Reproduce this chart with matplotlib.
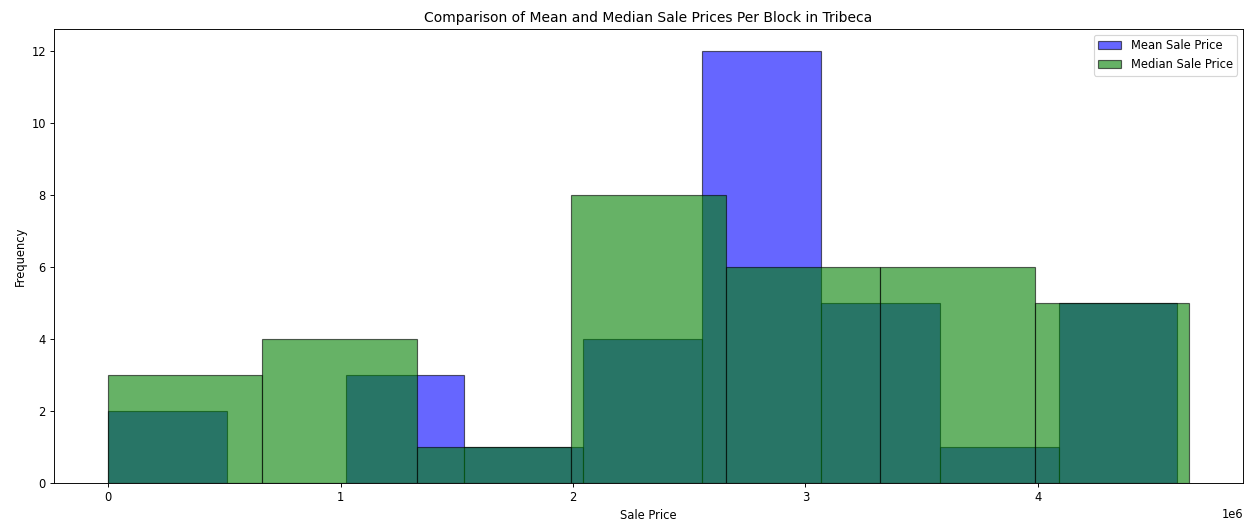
import numpy as np
import matplotlib
matplotlib.use('Agg')
from matplotlib import pyplot as plt

# histogram counts (33 blocks each)
mean_counts = [2, 0, 3, 1, 4, 12, 5, 1, 5]
mean_range = (0.0, 4.60e6)
median_counts = [3, 4, 1, 8, 6, 6, 5]
median_range = (0.0, 4.65e6)

mean_edges = np.linspace(mean_range[0], mean_range[1], len(mean_counts) + 1)
median_edges = np.linspace(median_range[0], median_range[1], len(median_counts) + 1)

fig = plt.figure(figsize=(15, 6.32), dpi=83.07)
ax = fig.add_axes([54/1246, 1-483/525, (1243-54)/1246, (483-29)/525])

ax.hist(mean_edges[:-1], bins=mean_edges, weights=mean_counts,
        color='blue', alpha=0.6, edgecolor='black', label='Mean Sale Price')
ax.hist(median_edges[:-1], bins=median_edges, weights=median_counts,
        color='green', alpha=0.6, edgecolor='black', label='Median Sale Price')

ax.set_title('Comparison of Mean and Median Sale Prices Per Block in Tribeca')
ax.set_xlabel('Sale Price')
ax.set_ylabel('Frequency')
ax.legend()

fig.savefig('out.png', dpi=83.07)
